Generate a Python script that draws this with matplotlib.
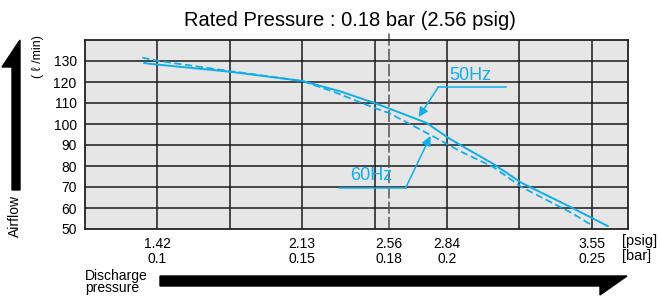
import matplotlib.pyplot as plt
from matplotlib.patches import Polygon

plt.rcParams['font.family'] = ['Liberation Sans', 'DejaVu Sans']

# discharge pressure [bar] vs airflow [l/min]
bar_50hz = [0.0955, 0.1, 0.125, 0.15, 0.163, 0.175, 0.193, 0.2, 0.2046, 0.216, 0.2257, 0.2426, 0.2555]
flow_50hz = [129.0, 128.3, 124.9, 120.5, 115.6, 110.0, 100.5, 93.8, 90.0, 81.0, 72.0, 60.5, 51.4]

bar_60hz = [0.0948, 0.1, 0.125, 0.15, 0.1611, 0.175, 0.18, 0.1943, 0.2046, 0.216, 0.2257, 0.2426, 0.2505]
flow_60hz = [131.6, 130.1, 125.2, 120.5, 115.2, 107.6, 105.2, 94.8, 87.0, 79.5, 70.0, 58.0, 51.4]

tick_bar = [0.1, 0.15, 0.18, 0.2, 0.25]
tick_psig = ["1.42", "2.13", "2.56", "2.84", "3.55"]
tick_bar_lbl = ["0.1", "0.15", "0.18", "0.2", "0.25"]
grid_x = [0.1, 0.125, 0.15, 0.175, 0.2, 0.225, 0.25]
grid_y = [60, 70, 80, 90, 100, 110, 120, 130]
rated_bar = 0.18

cyan = "#12aee8"

fig = plt.figure(figsize=(6.61, 3.03), dpi=100)
ax = fig.add_axes([85 / 661, 1 - 229 / 303, 543 / 661, 189 / 303])
ax.set_facecolor("#e6e6e6")
ax.set_xlim(0.075, 0.2625)
ax.set_ylim(50, 140)

for gx in grid_x:
    ax.axvline(gx, color="#1a1a1a", lw=1.1, zorder=1)
for gy in grid_y:
    ax.axhline(gy, color="#1a1a1a", lw=1.1, zorder=1)

ax.axvline(rated_bar, ymin=0, ymax=1.04, color="#555555", lw=1.1,
           dashes=(8, 2), clip_on=False, zorder=2)

ax.plot(bar_50hz, flow_50hz, color=cyan, lw=1.4, zorder=3)
ax.plot(bar_60hz, flow_60hz, color=cyan, lw=1.3, dashes=(4, 2), zorder=3)

for s in ax.spines.values():
    s.set_linewidth(1.3)
    s.set_color("#222222")

ax.set_yticks([50, 60, 70, 80, 90, 100, 110, 120, 130])
ax.tick_params(axis="y", length=0, pad=6, labelsize=10)
ax.set_xticks(tick_bar)
ax.set_xticklabels([p + "\n" + b for p, b in zip(tick_psig, tick_bar_lbl)],
                   linespacing=1.1)
ax.tick_params(axis="x", length=0, pad=6, labelsize=10)

fig.text(622 / 661, 1 - 234 / 303, "[psig]\n[bar]", fontsize=10.5,
         va="top", ha="left", linespacing=1.05)

# 50Hz / 60Hz callouts
ax.plot([0.197, 0.2205], [117.6, 117.6], color=cyan, lw=1.1, zorder=4)
ax.annotate("", xy=(0.1902, 103.3), xytext=(0.197, 117.6),
            arrowprops=dict(arrowstyle="-|>", color=cyan, lw=1.1,
                            mutation_scale=14, shrinkA=0, shrinkB=0), zorder=4)
ax.text(0.2081, 123.0, "50Hz", color=cyan, fontsize=13, ha="center", va="center")

ax.plot([0.1626, 0.1857], [69.5, 69.5], color=cyan, lw=1.1, zorder=4)
ax.annotate("", xy=(0.1943, 94.3), xytext=(0.1857, 69.5),
            arrowprops=dict(arrowstyle="-|>", color=cyan, lw=1.1,
                            mutation_scale=14, shrinkA=0, shrinkB=0), zorder=4)
ax.text(0.174, 75.7, "60Hz", color=cyan, fontsize=13, ha="center", va="center")

fig.text(350 / 661, 1 - 20 / 303, "Rated Pressure : 0.18 bar (2.56 psig)",
         fontsize=14.5, ha="center", va="center")

# axis arrows in pixel space
def px(x, y):
    return (x / 661, 1 - y / 303)

up_arrow = [px(12, 190), px(20, 190), px(20, 40), px(2, 67), px(12, 67)]
fig.patches.append(Polygon(up_arrow, closed=True, color="black",
                           transform=fig.transFigure, figure=fig))
right_arrow = [px(160, 276), px(627, 276), px(600, 295), px(600, 286), px(160, 286)]
fig.patches.append(Polygon(right_arrow, closed=True, color="black",
                           transform=fig.transFigure, figure=fig))

fig.text(15 / 661, 1 - 216 / 303, "Airflow", rotation=90, fontsize=10,
         ha="center", va="center")
fig.text(38 / 661, 1 - 57 / 303, "( ℓ /min)", rotation=90, fontsize=9,
         ha="center", va="center")
fig.text(85 / 661, 1 - 282 / 303, "Discharge\npressure", fontsize=10,
         ha="left", va="center", linespacing=0.85)

fig.savefig("out.png", dpi=100)
